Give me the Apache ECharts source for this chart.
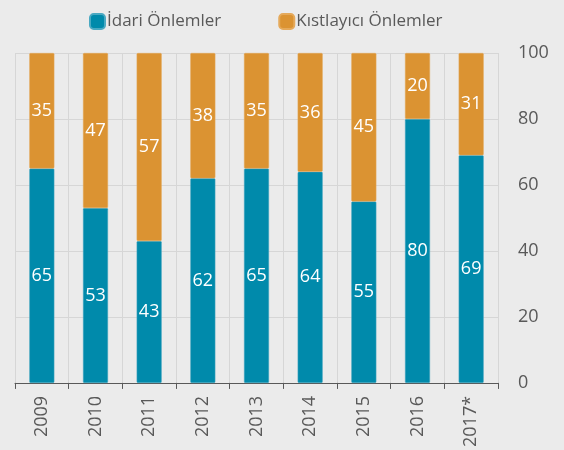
<!DOCTYPE html>
<html><head><meta charset="utf-8">
<script src="https://cdn.jsdelivr.net/npm/echarts@6/dist/echarts.min.js"></script>
<style>html,body{margin:0;padding:0;background:#ebebeb}#c{width:564px;height:450px}</style>
</head><body><div id="c"></div>
<script>
const categories = ['2009','2010','2011','2012','2013','2014','2015','2016','2017*'];
const idari = [65,53,43,62,65,64,55,80,69];
const kisitlayici = [35,47,57,38,35,36,45,20,31];
const yTicks = [0,20,40,60,80,100];
const FONT = '"Open Sans", sans-serif';
const chart = echarts.init(document.getElementById('c'));
chart.setOption({
  backgroundColor: '#ebebeb',
  textStyle: {fontFamily: FONT},
  legend: {
    left: 84, top: 8, itemWidth: 15, itemHeight: 15, itemGap: 57,
    icon: 'roundRect',
    textStyle: {fontSize: 17, color: '#595959', fontFamily: FONT, padding: [0,0,0,-3]},
    data: ['İdari Önlemler','Kıstlayıcı Önlemler']
  },
  grid: {left: 15, right: 66, top: 53, bottom: 67},
  xAxis: {
    type: 'category', data: categories,
    axisLine: {lineStyle: {color: '#595959'}},
    axisTick: {show: true, length: 6, lineStyle: {color: '#595959'}},
    axisLabel: {rotate: 90, fontSize: 18, color: '#595959', margin: 13, fontFamily: FONT},
    splitLine: {show: true, lineStyle: {color: '#d6d6d6'}}
  },
  yAxis: {
    type: 'value', position: 'right', min: yTicks[0], max: yTicks[yTicks.length-1], interval: 20,
    axisLine: {show: false}, axisTick: {show: false},
    axisLabel: {fontSize: 18, color: '#595959', margin: 20, fontFamily: FONT},
    splitLine: {lineStyle: {color: '#d6d6d6'}}
  },
  series: [
    {name: 'İdari Önlemler', type: 'bar', stack: 's', data: idari, barWidth: 25,
     itemStyle: {color: '#008aab', borderColor: '#4aa9c2', borderWidth: 0.5, borderRadius: 1},
     label: {show: true, position: 'inside', color: '#ffffff', fontSize: 18, fontFamily: FONT}},
    {name: 'Kıstlayıcı Önlemler', type: 'bar', stack: 's', data: kisitlayici, barWidth: 25,
     itemStyle: {color: '#db9332', borderColor: '#e5a95a', borderWidth: 0.5, borderRadius: 1},
     label: {show: true, position: 'inside', color: '#ffffff', fontSize: 18, fontFamily: FONT}}
  ]
});
</script></body></html>
